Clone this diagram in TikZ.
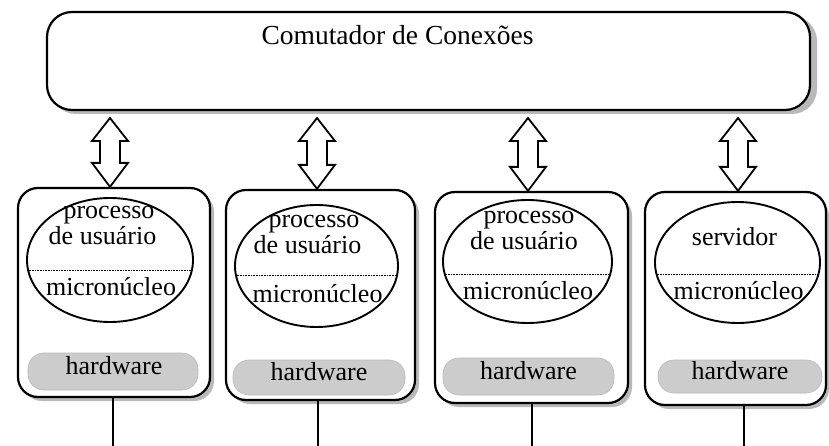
\documentclass[tikz,border=0pt]{standalone}
\usepackage{fontspec}
\setmainfont{Liberation Serif}
\usetikzlibrary{shapes.geometric,calc}
\tikzset{
  x=1pt,y=-1pt,
  box/.style={draw=black,line width=2.2pt,fill=white,rounded corners=20pt,inner sep=0pt,
    minimum width=#1},
  boxshadow/.style={fill=gray!55,rounded corners=20pt},
  ell/.style={ellipse,draw=black,line width=1.9pt,inner sep=0pt,
    path picture={\draw[black,line width=0.6pt,densely dotted]
      ([yshift=-#1pt]path picture bounding box.west) -- ([yshift=-#1pt]path picture bounding box.east);}},
  hw/.style={fill=gray!40,draw=gray!55,line width=0.6pt,rounded corners=16pt,inner sep=0pt},
  txt/.style={inner sep=0pt,font=\fontsize{26}{26}\selectfont,text height=0.62em,text depth=0.16em},
  ttl/.style={inner sep=0pt,font=\fontsize{27.5}{28}\selectfont,text height=0.7em,text depth=0.2em},
  dblarrow/.style={draw=black,line width=1.8pt,fill=white,line join=miter},
  wire/.style={draw=black,line width=1.6pt}
}
\newcommand{\hollowdbl}[2]{%
  \draw[dblarrow] let \p1=(#1), \p2=(#2) in
    (\p1) -- (\x1+18pt,\y1-23pt) -- (\x1+10pt,\y1-23pt) -- (\x1+10pt,\y2+24pt)
    -- (\x1+18pt,\y2+24pt) -- (\x1,\y2) -- (\x1-18pt,\y2+24pt) -- (\x1-10pt,\y2+24pt)
    -- (\x1-10pt,\y1-23pt) -- (\x1-18pt,\y1-23pt) -- cycle;}
\begin{document}
\begin{tikzpicture}
\useasboundingbox (0,0) rectangle (829,446);
% top box
\fill[boxshadow,rounded corners=25pt] (51,16) rectangle (817,114);
\node[box,rounded corners=25pt,minimum width=763pt,minimum height=98pt] (top) at (428.5,61) {};
\node[ttl] (title) at (397.5,42) {Comutador de Conexões};
% shadows of lower boxes
\fill[boxshadow] (22,192) rectangle (214,401);
\fill[boxshadow] (230,194) rectangle (419,404);
\fill[boxshadow] (439,196) rectangle (632,407);
\fill[boxshadow] (649,196) rectangle (829,409);
% lower boxes
\node[box=192pt,minimum height=209pt] (b1) at (114,292.5) {};
\node[box=189pt,minimum height=210pt] (b2) at (320.5,295) {};
\node[box=193pt,minimum height=211pt] (b3) at (531.5,297.5) {};
\node[box=181pt,minimum height=213pt] (b4) at (735.5,298.5) {};
% ellipses
\node[ell=10,minimum width=166pt,minimum height=124pt] (e1) at (110,260) {};
\node[ell=9,minimum width=163pt,minimum height=122pt] (e2) at (316.5,266) {};
\node[ell=12.5,minimum width=169pt,minimum height=123pt] (e3) at (527.5,261.5) {};
\node[ell=11.5,minimum width=165pt,minimum height=121pt] (e4) at (737.5,262.5) {};
% ellipse texts
\node[txt] (p1) at (109,216) {processo};
\node[txt] (u1) at (102.5,242) {de usuário};
\node[txt] (m1) at (111,293) {micronúcleo};
\node[txt] (p2) at (314,225) {processo};
\node[txt] (u2) at (307.5,251) {de usuário};
\node[txt] (m2) at (317.5,300) {micronúcleo};
\node[txt] (p3) at (529,221) {processo};
\node[txt] (u3) at (524,247) {de usuário};
\node[txt] (m3) at (528,297) {micronúcleo};
\node[txt] (s4) at (734.5,243) {servidor};
\node[txt] (m4) at (738.5,297) {micronúcleo};
% hardware
\node[hw,minimum width=170pt,minimum height=37pt] (h1) at (113,371.5) {};
\node[hw,minimum width=172pt,minimum height=35pt] (h2) at (319,377.5) {};
\node[hw,minimum width=171pt,minimum height=37pt] (h3) at (528.5,376.5) {};
\node[hw,minimum width=164pt,minimum height=33pt] (h4) at (740,376.5) {};
\node[txt] (ht1) at (114,372) {hardware};
\node[txt] (ht2) at (319,378) {hardware};
\node[txt] (ht3) at (528.5,377) {hardware};
\node[txt] (ht4) at (740,377) {hardware};
% arrows
\coordinate (a1) at (110,118);
\coordinate (a2) at (317,118);
\coordinate (a3) at (528,118);
\coordinate (a4) at (738,118);
\hollowdbl{a1}{b1.north -| a1}
\hollowdbl{a2}{b2.north -| a2}
\hollowdbl{a3}{b3.north -| a3}
\hollowdbl{a4}{b4.north -| a4}
% wires
\coordinate (l1) at (113,446);
\coordinate (l2) at (318,446);
\coordinate (l3) at (532,446);
\coordinate (l4) at (744,446);
\draw[wire] (b1.south -| l1) -- (l1);
\draw[wire] (b2.south -| l2) -- (l2);
\draw[wire] (b3.south -| l3) -- (l3);
\draw[wire] (b4.south -| l4) -- (l4);
\end{tikzpicture}
\end{document}
